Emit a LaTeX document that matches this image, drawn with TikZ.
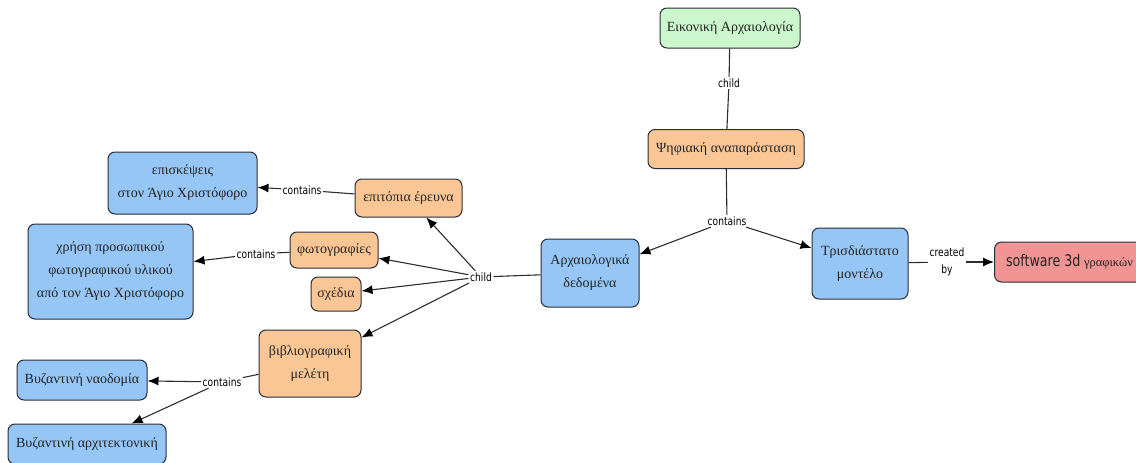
\documentclass[tikz,border=0pt]{standalone}
\usepackage{fontspec}
\setmainfont{Liberation Serif}
\newfontfamily\labelfont[FakeStretch=0.88]{DejaVu Sans Condensed}
\usetikzlibrary{arrows.meta}

\definecolor{boxline}{RGB}{40,45,55}
\definecolor{edgecol}{RGB}{45,45,45}
\definecolor{greenfill}{RGB}{204,247,204}
\definecolor{orangefill}{RGB}{250,198,150}
\definecolor{bluefill}{RGB}{150,198,246}
\definecolor{redfill}{RGB}{243,148,148}
\definecolor{txt}{RGB}{35,35,35}

\tikzset{
  concept/.style={draw=boxline, line width=1pt, rounded corners=7pt,
    align=center, inner sep=2pt, text=txt,
    font=\fontsize{14}{23}\selectfont},
  topic/.style={concept, fill=greenfill},
  part/.style={concept, fill=orangefill},
  item/.style={concept, fill=bluefill},
  tool/.style={concept, fill=redfill},
  linkword/.style={fill=white, inner sep=1.5pt, align=center, text=black,
    font=\labelfont\fontsize{11.5}{17}\selectfont},
  plain/.style={draw=edgecol, line width=1.1pt},
  arrow/.style={plain, -{Latex[length=11pt,width=9pt,color=black]}}
}

\begin{document}
\begin{tikzpicture}[x=1pt, y=-1pt]
\useasboundingbox (0,0) rectangle (1136,463);

% concepts
\node[topic, minimum width=140pt, minimum height=40pt] (eik) at (730,28) {Εικονική Αρχαιολογία};
\node[part, minimum width=156pt, minimum height=39pt] (psi) at (726,149) {Ψηφιακή αναπαράσταση};
\node[item, minimum width=98pt, minimum height=68pt] (arx) at (590,273) {Αρχαιολογικά\\δεδομένα};
\node[item, minimum width=96pt, minimum height=71pt] (tri) at (860,263.5) {Τρισδιάστατο\\μοντέλο};
\node[tool, minimum width=150pt, minimum height=40pt, anchor=west] (sw) at (994,262)
  {{\labelfont\fontsize{16}{18}\selectfont software 3d} {\fontsize{12.5}{14}\selectfont γραφικών}};

\node[part, minimum width=107pt, minimum height=38pt] (epit) at (408.5,198) {επιτόπια έρευνα};
\node[item, minimum width=149pt, minimum height=62pt] (episk) at (182.5,183) {επισκέψεις\\στον Άγιο Χριστόφορο};
\node[part, minimum width=88pt, minimum height=36pt] (foto) at (334,250) {φωτογραφίες};
\node[item, minimum width=165pt, minimum height=95pt] (xrisi) at (110.5,271.5)
  {χρήση προσωπικού\\φωτογραφικού υλικού\\από τον Άγιο Χριστόφορο};
\node[part, minimum width=50pt, minimum height=34pt] (sxed) at (336,294) {σχέδια};
\node[part, minimum width=102pt, minimum height=67pt] (bibl) at (310,363.5) {βιβλιογραφική\\μελέτη};
\node[item, minimum width=130pt, minimum height=40pt] (naod) at (82,380) {Βυζαντινή ναοδομία};
\node[item, minimum width=158pt, minimum height=40pt] (arxit) at (87,444) {Βυζαντινή αρχιτεκτονική};

% linking words
\node[linkword] (l1) at (729,83) {child};
\node[linkword] (l2) at (727,221) {contains};
\node[linkword] (l3) at (947,262) {created\\by};
\node[linkword] (l4) at (481,277) {child};
\node[linkword] (l5) at (302,190) {contains};
\node[linkword] (l6) at (256,254) {contains};
\node[linkword] (l7) at (222,382) {contains};

% connections
\draw[plain] (eik) -- (l1);
\draw[plain] (l1) -- (psi);

\draw[plain] (psi) -- (l2);
\draw[arrow] (l2) -- (arx);
\draw[arrow] (l2) -- (tri);

\draw[plain] (tri) -- (l3);
\draw[arrow] (l3) -- (sw);

\draw[plain] (arx) -- (l4);
\draw[arrow] (l4) -- (epit);
\draw[arrow] (l4) -- (foto);
\draw[arrow] (l4) -- (sxed);
\draw[arrow] (l4) -- (bibl);

\draw[plain] (epit) -- (l5);
\draw[arrow] (l5) -- (episk);

\draw[plain] (foto) -- (l6);
\draw[arrow] (l6) -- (xrisi);

\draw[plain] (bibl) -- (l7);
\draw[arrow] (l7) -- (naod);
\draw[arrow] (l7) -- (arxit);
\end{tikzpicture}
\end{document}
